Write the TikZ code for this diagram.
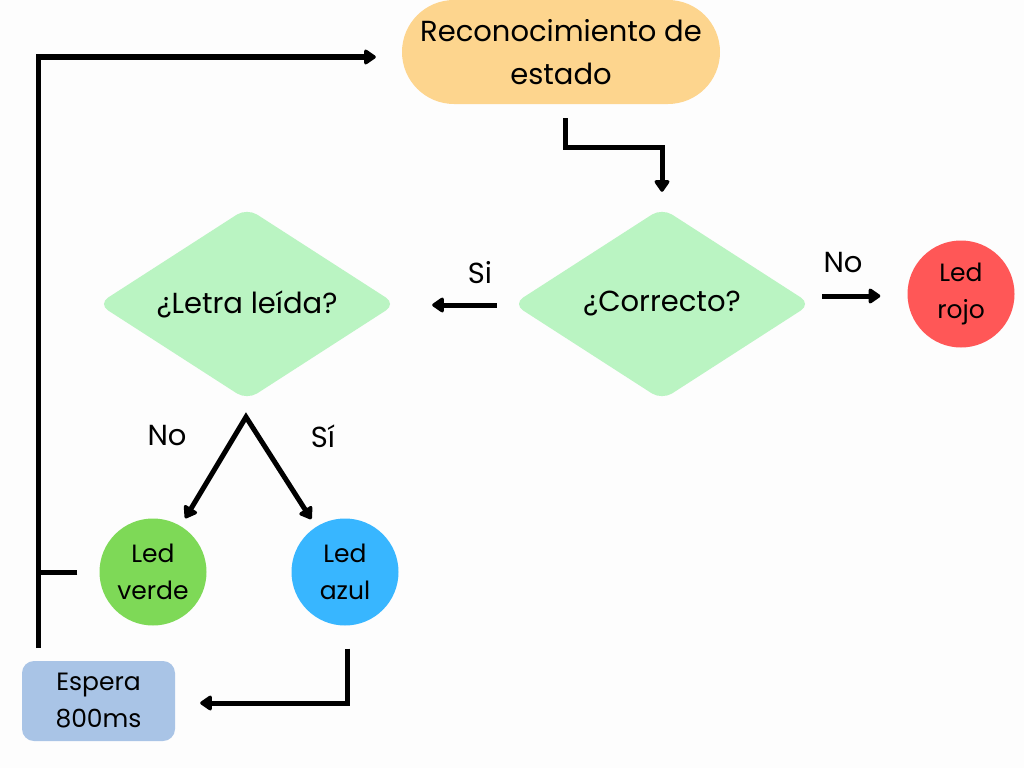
\documentclass[tikz,border=0pt]{standalone}
\usepackage{fontspec}
\setmainfont{Poppins}
\usepackage{tikz}
\usetikzlibrary{arrows.meta,positioning,shapes.geometric,calc}
\definecolor{flowyellow}{HTML}{FDD58E}
\definecolor{flowmint}{HTML}{BAF4C2}
\definecolor{flowred}{HTML}{FF5757}
\definecolor{flowgreen}{HTML}{7ED957}
\definecolor{flowblue}{HTML}{38B6FF}
\definecolor{flowsteel}{HTML}{A9C4E6}
\definecolor{flowpaper}{HTML}{FDFDFD}

\tikzset{
  bigtext/.style={font=\fontsize{29}{43}\selectfont},
  smalltext/.style={font=\fontsize{25}{37}\selectfont},
  decision/.style={diamond,aspect=1.5,fill=flowmint,rounded corners=12pt,minimum width=298pt,
                   minimum height=192pt,inner sep=0pt,bigtext},
  led/.style={circle,minimum size=107pt,inner sep=0pt,align=center,smalltext},
  flow/.style={line width=5pt,->}
}

\begin{document}
\begin{tikzpicture}[x=1pt,y=-1pt,>={Triangle[width=17pt,length=13pt,round]}]
  \fill[flowpaper] (0,0) rectangle (1024,768);
  \useasboundingbox (0,0) rectangle (1024,768);
  % Nodes
  \node[fill=flowyellow,rounded corners=52pt,minimum width=318pt,minimum height=104pt,
        align=center,bigtext] (reco) at (561,52) {Reconocimiento de\\estado};
  \node[decision] (correcto) at (662,304) {\raisebox{-4pt}{¿Correcto?}};
  \node[decision] (letra) at (247,304) {\raisebox{-3pt}{¿Letra leída?}};
  \node[led,fill=flowred] (rojo) at (961,294) {Led\\rojo};
  \node[led,fill=flowgreen] (verde) at (153,572) {Led\\verde};
  \node[led,fill=flowblue] (azul) at (345,572) {Led\\azul};
  \node[fill=flowsteel,rounded corners=12pt,minimum width=153pt,minimum height=80pt,
        align=center,smalltext] (espera) at (98.5,701) {Espera\\800ms};
  \coordinate (apex) at (246,417);
  \coordinate (loop) at (38,648);
  % Connectors
  \draw[flow,shorten <=14pt,shorten >=16pt] ([xshift=4pt]reco.south) -- ++(0,43) -| (correcto.north);
  \draw[flow,shorten <=16pt,shorten >=36pt] ([yshift=-1pt]correcto.west) -- ([yshift=-1pt]letra.east);
  \draw[flow,shorten <=11pt,shorten >=27pt] ([yshift=8pt]correcto.east) -- ([yshift=8pt]correcto.east -| rojo.west);
  \draw[line width=5pt,<->,shorten <=9pt,shorten >=9pt] (verde) -- (apex) -- (azul);
  \draw[flow,shorten <=23pt,shorten >=25pt] ([xshift=2pt]azul.south) |- ([yshift=-2pt]espera.east);
  \draw[flow,shorten >=26pt] (loop) |- ([yshift=-5pt]reco.west);
  \draw[line width=5pt,shorten <=22pt] (verde.west) -- (verde.west -| loop);
  % Labels
  \node[bigtext] (lblsi) at (480,273) {Si};
  \node[bigtext] (lblno) at (843,263) {No};
  \node[bigtext] (lblno2) at (167,436) {No};
  \node[bigtext] (lblsi2) at (323,436) {Sí};
\end{tikzpicture}
\end{document}
